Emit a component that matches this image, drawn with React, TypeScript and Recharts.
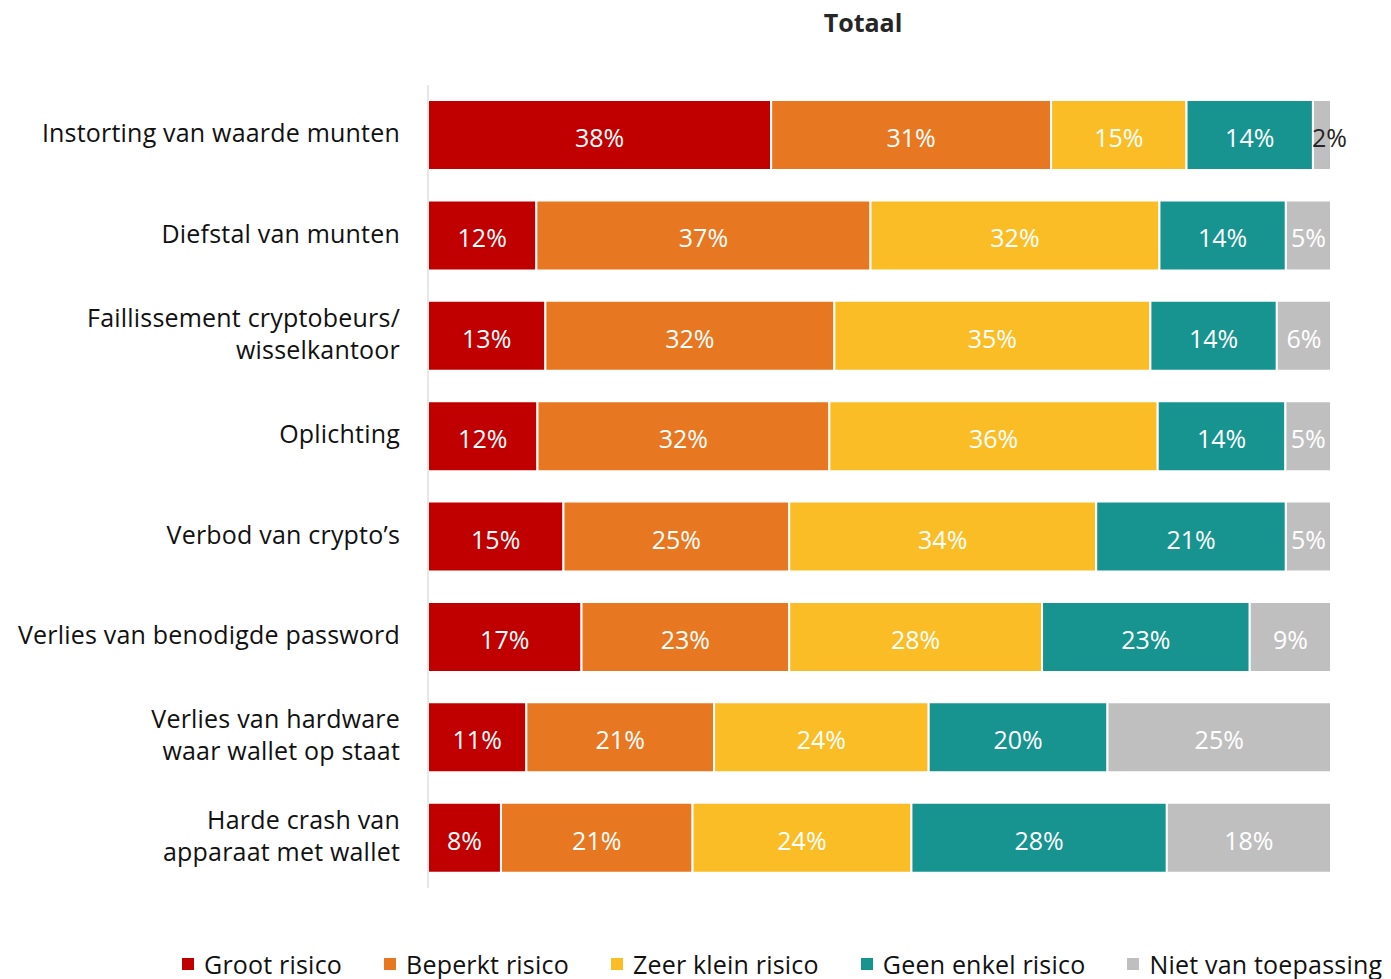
import { BarChart, Bar, XAxis, YAxis, LabelList } from 'recharts'

const categories = [
  'Instorting van waarde munten',
  'Diefstal van munten',
  'Faillissement cryptobeurs/\nwisselkantoor',
  'Oplichting',
  'Verbod van crypto’s',
  'Verlies van benodigde password',
  'Verlies van hardware\nwaar wallet op staat',
  'Harde crash van\napparaat met wallet',
]

const groot = [38, 12, 13, 12, 15, 17, 11, 8]
const beperkt = [31, 37, 32, 32, 25, 23, 21, 21]
const zeerKlein = [15, 32, 35, 36, 34, 28, 24, 24]
const geenEnkel = [14, 14, 14, 14, 21, 23, 20, 28]
const nvt = [2, 5, 6, 5, 5, 9, 25, 18]

const SERIES = [
  { key: 'groot', name: 'Groot risico', color: '#C00000' },
  { key: 'beperkt', name: 'Beperkt risico', color: '#E87722' },
  { key: 'zeerKlein', name: 'Zeer klein risico', color: '#FBBD26' },
  { key: 'geenEnkel', name: 'Geen enkel risico', color: '#179490' },
  { key: 'nvt', name: 'Niet van toepassing', color: '#BFBFBF' },
]

const FONT = '"Open Sans", "Noto Sans", sans-serif'

const data = categories.map((c, i) => ({
  category: c,
  groot: groot[i],
  beperkt: beperkt[i],
  zeerKlein: zeerKlein[i],
  geenEnkel: geenEnkel[i],
  nvt: nvt[i],
}))

function CategoryTick({ x, y, payload }: any) {
  const lines = String(payload.value).split('\n')
  const lineHeight = 32
  const start = y - ((lines.length - 1) * lineHeight) / 2 - 3
  return (
    <text x={x} y={start} textAnchor="end" fill="#111" fontSize={25} letterSpacing={0.2} fontFamily={FONT}>
      {lines.map((l: string, i: number) => (
        <tspan key={i} x={x} y={start + i * lineHeight} dominantBaseline="central">
          {l}
        </tspan>
      ))}
    </text>
  )
}

function SegmentLabel({ x, y, width, height, value }: any) {
  const small = value < 3
  return (
    <text
      x={small ? x - 1 : x + width / 2}
      y={y + height / 2 + 2}
      textAnchor={small ? 'start' : 'middle'}
      dominantBaseline="central"
      fill={small ? '#262626' : '#fff'}
      fontSize={25}
      fontFamily={FONT}
    >
      {value}%
    </text>
  )
}

function ChartLegend() {
  return (
    <div
      style={{
        position: 'absolute',
        left: 174,
        top: 940,
        display: 'flex',
        gap: 42,
        fontFamily: FONT,
        fontSize: 25,
        letterSpacing: 0.2,
        color: '#111',
        whiteSpace: 'nowrap',
        lineHeight: '32px',
      }}
    >
      {SERIES.map((s) => (
        <div key={s.key} style={{ display: 'flex', alignItems: 'center', gap: 10 }}>
          <span style={{ width: 12, height: 12, background: s.color, display: 'inline-block' }} />
          <span>{s.name}</span>
        </div>
      ))}
    </div>
  )
}

export default function App() {
  return (
    <div style={{ position: 'relative', width: 1383, height: 971 }}>
      <div
        style={{
          position: 'absolute',
          top: 0,
          left: 0,
          width: 1710,
          textAlign: 'center',
          fontFamily: FONT,
          fontWeight: 700,
          fontSize: 25,
          color: '#262626',
          lineHeight: '28px',
        }}
      >
        Totaal
      </div>
      <BarChart
        width={1383}
        height={971}
        data={data}
        layout="vertical"
        stackOffset="expand"
        barCategoryGap="15%"
        margin={{ top: 77, right: 60, bottom: 91, left: 0 }}
      >
        <XAxis type="number" hide domain={[0, 1]} />
        <YAxis
          type="category"
          dataKey="category"
          width={420}
          axisLine={{ stroke: '#D0D0D0' }}
          tickLine={false}
          tickMargin={22}
          interval={0}
          tick={<CategoryTick />}
        />
        {SERIES.map((s) => (
          <Bar
            key={s.key}
            dataKey={s.key}
            name={s.name}
            stackId="a"
            fill={s.color}
            stroke="#fff"
            strokeWidth={2}
            isAnimationActive={false}
          >
            <LabelList dataKey={s.key} content={<SegmentLabel />} />
          </Bar>
        ))}
      </BarChart>
      <ChartLegend />
    </div>
  )
}
